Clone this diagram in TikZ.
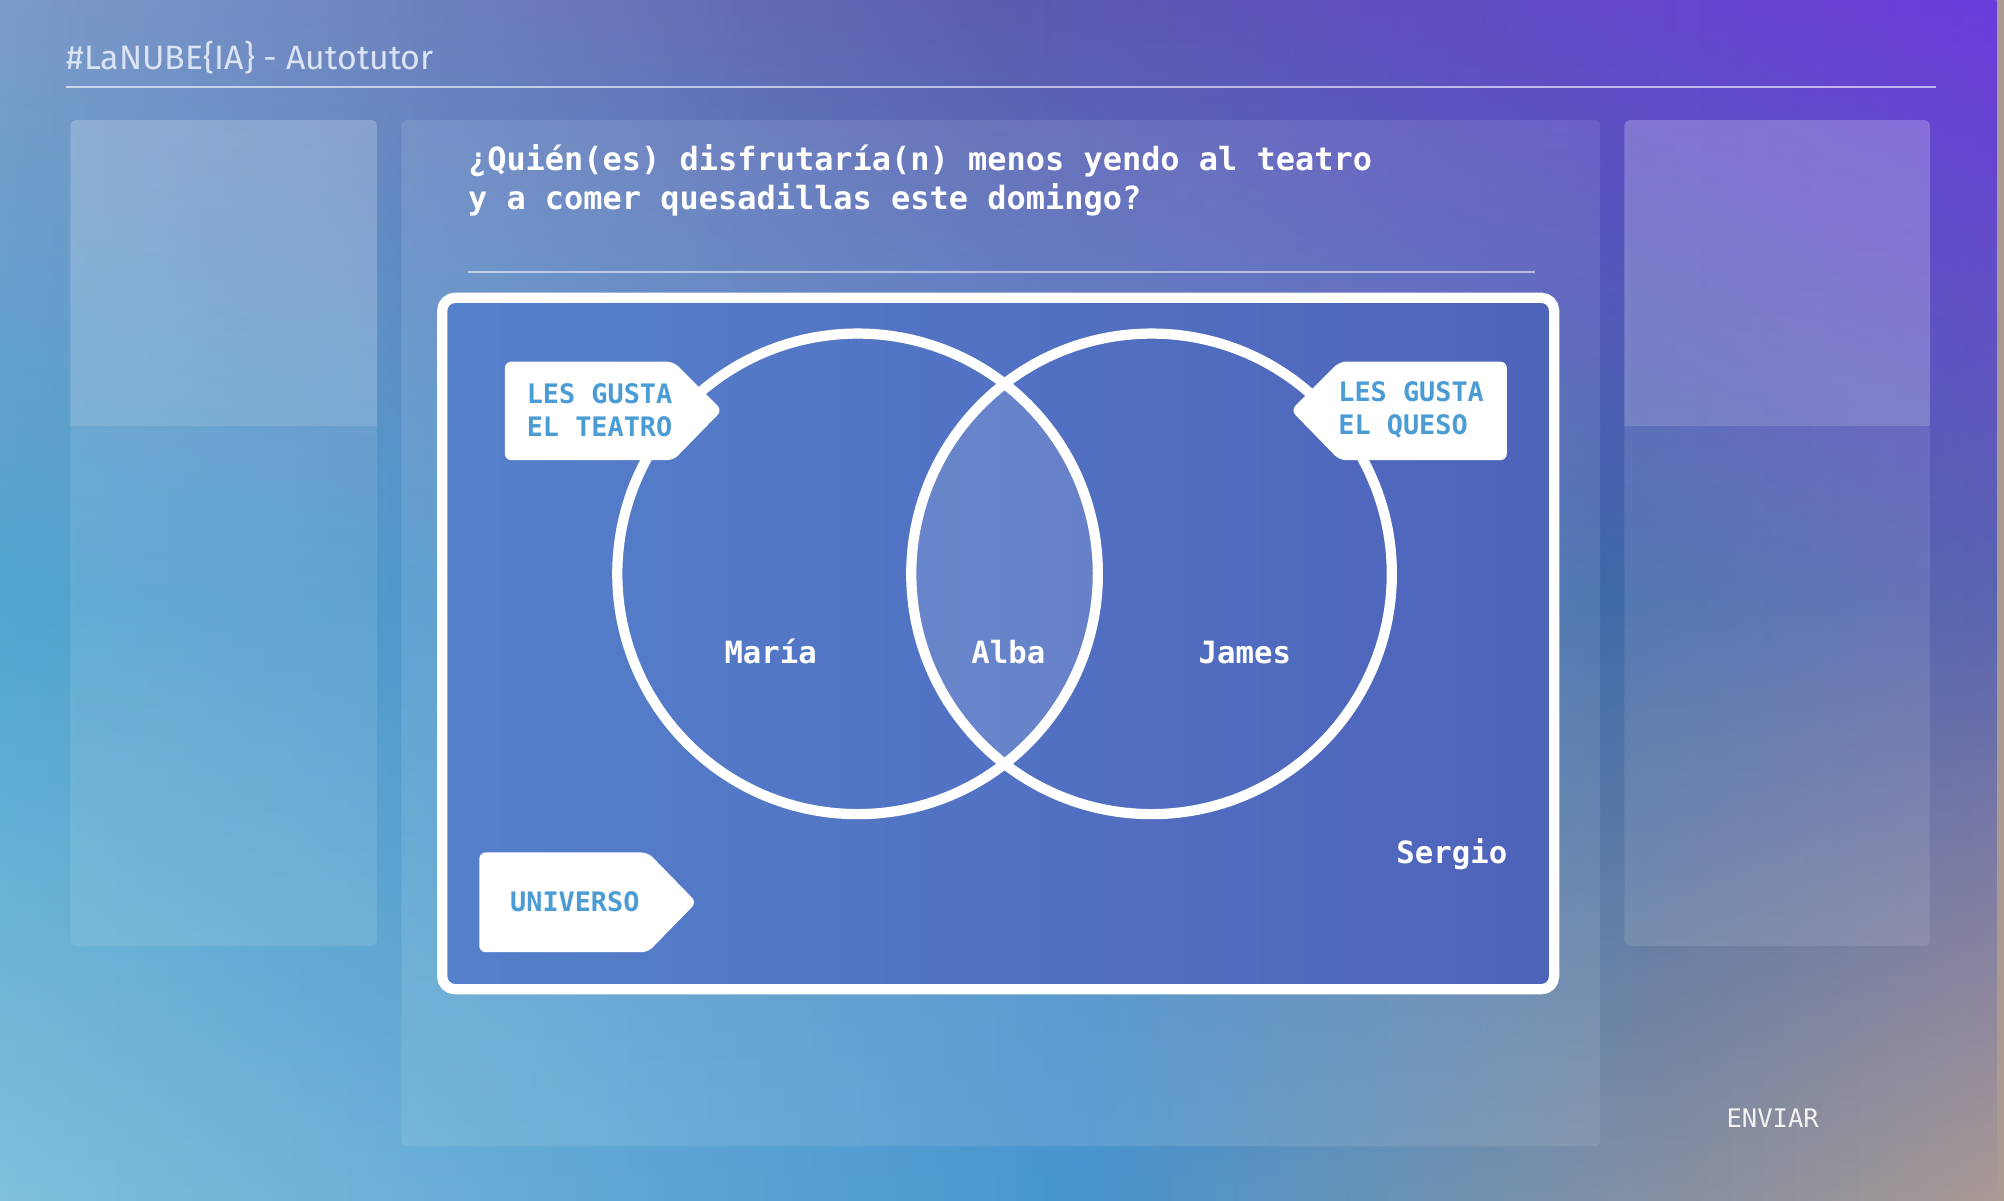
\documentclass[tikz,border=0pt]{standalone}
\usepackage{fontspec}
\setmonofont{DejaVu Sans Mono}
\newfontfamily\headfont{Fira Sans}
\usetikzlibrary{fadings}

% screen colours
\definecolor{bgTL}{HTML}{7C9CCA}
\definecolor{bgTM}{HTML}{5C5CAE}
\definecolor{bgTR}{HTML}{6A3CDC}
\definecolor{bgML}{HTML}{52A6D0}
\definecolor{bgMM}{HTML}{4A86C6}
\definecolor{bgMD}{HTML}{3F6AA8}
\definecolor{bgMR}{HTML}{5A64B0}
\definecolor{bgBL}{HTML}{80C0DC}
\definecolor{bgBM}{HTML}{4896CF}
\definecolor{bgBD}{HTML}{8890A0}
\definecolor{bgBR}{HTML}{AA9A94}
\definecolor{boxL}{HTML}{5580CB}
\definecolor{boxR}{HTML}{4E63BA}
\definecolor{tagblue}{HTML}{4B9BD5}
\definecolor{headtext}{HTML}{DCE3F3}

\pgfdeclarehorizontalshading{bgtop}{100bp}{color(0bp)=(bgTL); color(25bp)=(bgTL); color(50bp)=(bgTM); color(75bp)=(bgTR); color(100bp)=(bgTR)}
\pgfdeclarehorizontalshading{bgmid}{100bp}{color(0bp)=(bgML); color(25bp)=(bgML); color(50bp)=(bgMM); color(65bp)=(bgMD); color(75bp)=(bgMR); color(100bp)=(bgMR)}
\pgfdeclarehorizontalshading{bgbottom}{100bp}{color(0bp)=(bgBL); color(25bp)=(bgBL); color(52bp)=(bgBM); color(67bp)=(bgBD); color(75bp)=(bgBR); color(100bp)=(bgBR)}
\tikzfading[name=fade top, top color=transparent!0, bottom color=transparent!100, middle color=transparent!100]
\tikzfading[name=fade mid, top color=transparent!0, bottom color=transparent!100, middle color=transparent!0]

\tikzstyle{panel} = [fill=white, fill opacity=0.1, rounded corners=4]
\tikzstyle{etiqueta} = [fill=white, rounded corners=5]
\tikzstyle{tagtext} = [text=tagblue, font=\ttfamily\bfseries\fontsize{21}{26}\selectfont, align=left, inner sep=0pt]
\tikzstyle{persona} = [text=white, font=\ttfamily\bfseries\fontsize{24}{28}\selectfont, inner sep=0pt]
\def\teatrocircle{(671,449) circle (188pt)}
\def\quesocircle{(901,449) circle (188pt)}

\begin{document}
\begin{tikzpicture}[x=1pt, y=-1pt]
        \useasboundingbox (0,0) rectangle (1568,939);
        % background of the screen
        \shade[shading=bgbottom] (0,0) rectangle (1568,939);
        \shade[shading=bgmid, path fading=fade mid] (0,0) rectangle (1568,939);
        \shade[shading=bgtop, path fading=fade top] (0,0) rectangle (1568,939);

        % header
        \node[text=headtext, font=\headfont\fontsize{26.5}{30}\selectfont, anchor=west, inner sep=0pt] (titulo) at (52,45) {\#LaNUBE\{IA\} - Autotutor};
        \draw[white, opacity=0.6, line width=1.2] (52,68) -- (1515,68);

        % side panels
        \fill[panel] (55,94) rectangle (295,740);
        \fill[panel] (1271,94) rectangle (1510,740);
        \begin{scope}
          \clip[rounded corners=4] (55,94) rectangle (295,740);
          \fill[white, fill opacity=0.12] (55,94) rectangle (295,333);
        \end{scope}
        \begin{scope}
          \clip[rounded corners=4] (1271,94) rectangle (1510,740);
          \fill[white, fill opacity=0.14] (1271,94) rectangle (1510,333);
        \end{scope}
        \fill[panel] (314,94) rectangle (1252,897);

        % question
        \node[text=white, font=\ttfamily\bfseries\fontsize{25}{30}\selectfont, align=left, anchor=west, inner sep=0pt] (pregunta) at (366,141)
          {¿Quién(es) disfrutaría(n) menos yendo al teatro\\y a comer quesadillas este domingo?};
        \draw[white, opacity=0.55, line width=1.5] (366,213) -- (1201,213);

        % universe box
        \shade[left color=boxL, right color=boxR, rounded corners=10] (346,233) rectangle (1216,774);
        \draw[white, line width=8, rounded corners=10] (346,233) rectangle (1216,774);

        % Venn circles, with the intersection a bit lighter
        \begin{scope}
          \clip \teatrocircle;
          \fill[white, fill opacity=0.13] \quesocircle;
        \end{scope}
        \draw[white, line width=8] \teatrocircle;
        \draw[white, line width=8] \quesocircle;

        % tags
        \fill[etiqueta] (395,283) -- (527,283) -- (565,321) -- (527,360) -- (395,360) -- cycle;
        \fill[etiqueta] (1179,283) -- (1048,283) -- (1010,321) -- (1048,360) -- (1179,360) -- cycle;
        \fill[etiqueta] (375,667) -- (507,667) -- (545,706) -- (507,745) -- (375,745) -- cycle;
        \node[tagtext, anchor=west] (teatro) at (412,321) {LES GUSTA\\EL TEATRO};
        \node[tagtext, anchor=west] (queso) at (1047,321) {LES GUSTA\\EL QUESO};
        \node[tagtext, anchor=base west] (universo) at (399,713) {UNIVERSO};

        % people
        \node[persona, anchor=base] (maria) at (603,519) {María};
        \node[persona, anchor=base] (alba) at (789,519) {Alba};
        \node[persona, anchor=base] (james) at (974,519) {James};
        \node[persona, anchor=base] (sergio) at (1136,676) {Sergio};

        % button
        \node[text=white!90!gray, font=\ttfamily\fontsize{20}{24}\selectfont, anchor=base, inner sep=0pt] (enviar) at (1387,882) {ENVIAR};
    \end{tikzpicture}
\end{document}
